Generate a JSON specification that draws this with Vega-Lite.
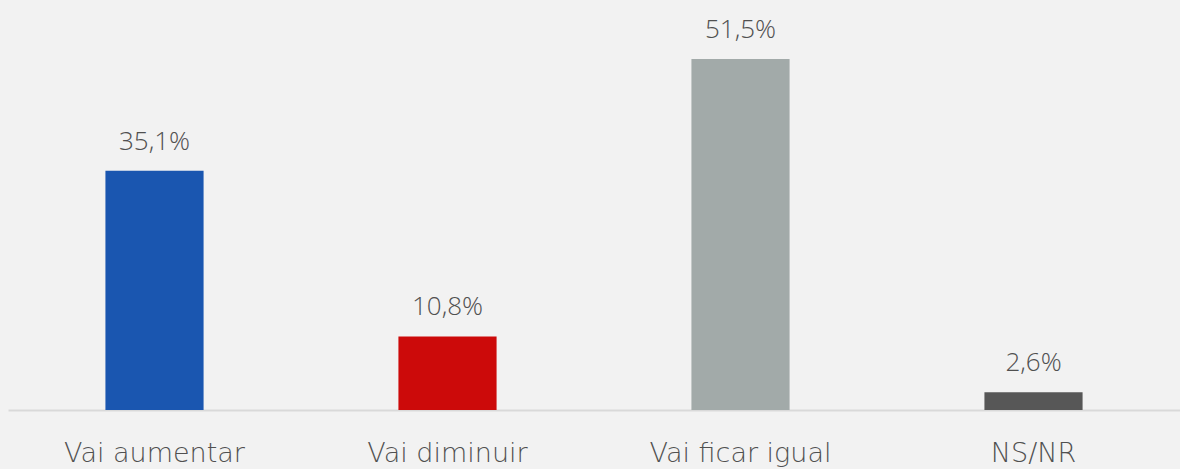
{
  "$schema": "https://vega.github.io/schema/vega-lite/v6.json",
  "width": 1172,
  "height": 410,
  "autosize": {"type": "none"},
  "padding": {"left": 8, "top": 0, "right": 0, "bottom": 59},
  "background": "#f2f2f2",
  "config": {"view": {"stroke": null}, "font": "Open Sans"},
  "data": {
    "values": [
      {"categoria": "Vai aumentar", "valor": 35.1, "rotulo": "35,1%", "cor": "#1a56b0"},
      {"categoria": "Vai diminuir", "valor": 10.8, "rotulo": "10,8%", "cor": "#cc0a0a"},
      {"categoria": "Vai ficar igual", "valor": 51.5, "rotulo": "51,5%", "cor": "#a2aaa9"},
      {"categoria": "NS/NR", "valor": 2.6, "rotulo": "2,6%", "cor": "#575757"}
    ]
  },
  "encoding": {
    "x": {
      "field": "categoria",
      "type": "nominal",
      "sort": null,
      "scale": {"paddingInner": 0.665, "paddingOuter": 0.3325},
      "axis": {
        "title": null,
        "labelAngle": 0,
        "labelFont": "DejaVu Sans",
        "labelFontSize": 27,
        "labelFontWeight": 300,
        "labelColor": "#505050",
        "labelPadding": 30,
        "labelLimit": 400,
        "ticks": false,
        "domainColor": "#d9d9d9",
        "domainWidth": 2,
        "grid": false
      }
    },
    "y": {
      "field": "valor",
      "type": "quantitative",
      "scale": {"domain": [0, 60.15], "nice": false},
      "axis": null
    }
  },
  "layer": [
    {
      "mark": {"type": "bar"},
      "encoding": {"color": {"field": "cor", "type": "nominal", "scale": null}}
    },
    {
      "mark": {"type": "text", "baseline": "alphabetic", "dy": -21, "fontSize": 26, "fontWeight": 300, "color": "#505050"},
      "encoding": {"text": {"field": "rotulo"}}
    }
  ]
}
